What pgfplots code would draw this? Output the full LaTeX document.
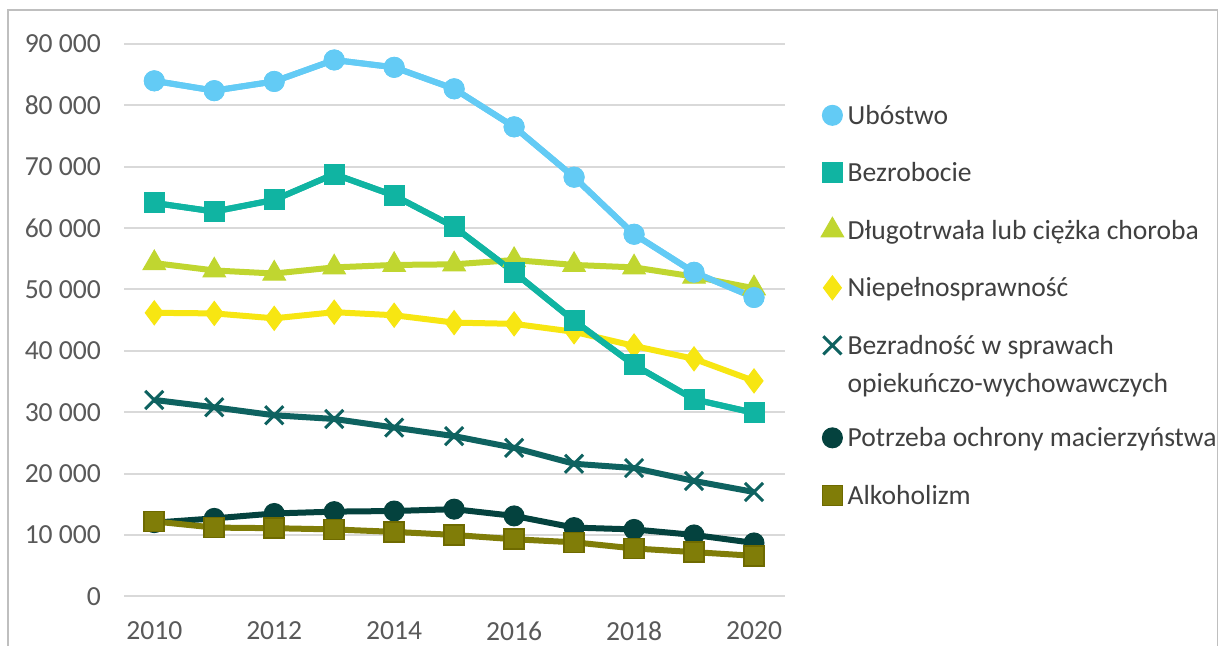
\documentclass[border=0pt]{standalone}
\usepackage{fontspec}
\setmainfont{Carlito}
\usepackage{pgfplots}
\pgfplotsset{compat=1.18}
\definecolor{cUb}{RGB}{99,203,245}
\definecolor{cBz}{RGB}{16,180,162}
\definecolor{cDl}{RGB}{192,214,48}
\definecolor{cNp}{RGB}{247,230,18}
\definecolor{cBr}{RGB}{14,98,96}
\definecolor{cPo}{RGB}{4,66,62}
\definecolor{cAl}{RGB}{128,125,8}
\definecolor{cAlD}{RGB}{110,106,0}
\definecolor{tickgray}{RGB}{89,89,89}
\definecolor{leggray}{RGB}{64,64,64}
\definecolor{gridgray}{RGB}{217,217,217}
\definecolor{bordergray}{RGB}{191,191,191}
\begin{document}
\begin{tikzpicture}
\path[use as bounding box, clip] (0pt,0pt) rectangle (609.5pt,322.5pt);
\fill[white] (0pt,0pt) rectangle (609.5pt,322.5pt);
\draw[bordergray, line width=0.6pt] (4pt,-5pt) rectangle (608.8pt,317.5pt);
\begin{axis}[
  at={(62pt,24.35pt)}, anchor=south west,
  scale only axis, width=330.5pt, height=276.15pt,
  xmin=2009.495, xmax=2020.517, ymin=0, ymax=90000,
  axis line style={draw=none}, major tick length=0pt,
  ymajorgrids, grid style={gridgray, line width=1pt},
  ytick={0,10000,...,90000},
  xtick={2010,2012,...,2020},
  scaled y ticks=false,
  /pgf/number format/assume math mode=true,
  yticklabel style={/pgf/number format/fixed, /pgf/number format/1000 sep={\ }, xshift=-8pt},
  xticklabel style={/pgf/number format/1000 sep={}, yshift=-9pt},
  tick label style={font=\fontsize{13.8}{16.5}\selectfont, text=tickgray},
  legend image code/.code={\draw[#1] plot[only marks] coordinates {(0.18cm,4.5pt)};},
  legend style={at={(1.045,0.906)}, anchor=north west, draw=none, fill=none,
    font=\fontsize{13.8}{16.5}\selectfont, text=leggray, row sep=11.25pt,
    nodes={anchor=base west, text depth=3.5pt, text height=10pt},
    /tikz/every even column/.append style={column sep=1pt}},
]
\addplot[cUb, line width=3pt, mark=*, mark size=5pt, mark options={fill=cUb, draw=cUb, line width=0.5pt}] coordinates {
(2010,84000)(2011,82400)(2012,83900)(2013,87400)(2014,86200)(2015,82700)(2016,76500)(2017,68300)(2018,59000)(2019,52800)(2020,48700)};
\addlegendentry{Ubóstwo}
\addplot[cBz, line width=3pt, mark=square*, mark size=5pt, mark options={fill=cBz, draw=cBz, line width=0.5pt}] coordinates {
(2010,64100)(2011,62700)(2012,64600)(2013,68800)(2014,65300)(2015,60200)(2016,52800)(2017,44900)(2018,37700)(2019,32100)(2020,29900)};
\addlegendentry{Bezrobocie}
\addplot[cDl, line width=3pt, mark=triangle*, mark size=6.5pt, mark options={fill=cDl, draw=cDl, line width=0.5pt}] coordinates {
(2010,54300)(2011,53100)(2012,52600)(2013,53600)(2014,54000)(2015,54100)(2016,54800)(2017,54000)(2018,53600)(2019,52100)(2020,50200)};
\addlegendentry{Długotrwała lub ciężka choroba}
\addplot[cNp, line width=3pt, mark=diamond*, mark size=6pt, mark options={fill=cNp, draw=cNp, line width=0.5pt}] coordinates {
(2010,46200)(2011,46100)(2012,45300)(2013,46300)(2014,45800)(2015,44600)(2016,44400)(2017,43100)(2018,40800)(2019,38700)(2020,35100)};
\addlegendentry{Niepełnosprawność}
\addplot[cBr, line width=3pt, mark=x, mark size=6.4pt, mark options={draw=cBr, line width=1.5pt}] coordinates {
(2010,32000)(2011,30800)(2012,29500)(2013,28900)(2014,27500)(2015,26100)(2016,24200)(2017,21600)(2018,20900)(2019,18800)(2020,17000)};
\addlegendentry[text depth=21pt]{\begin{tabular}[t]{@{}l@{}}Bezradność w sprawach\\[2.5pt]opiekuńczo-wychowawczych\end{tabular}}
\addplot[cPo, line width=3pt, mark=*, mark size=5pt, mark options={fill=cPo, draw=cPo, line width=0.5pt}] coordinates {
(2010,12000)(2011,12700)(2012,13500)(2013,13800)(2014,13900)(2015,14200)(2016,13100)(2017,11200)(2018,10900)(2019,10000)(2020,8700)};
\addlegendentry{Potrzeba ochrony macierzyństwa}
\addplot[cAl, line width=3pt, mark=square*, mark size=5pt, mark options={fill=cAl, draw=cAlD, line width=0.8pt}] coordinates {
(2010,12200)(2011,11200)(2012,11100)(2013,10900)(2014,10500)(2015,10000)(2016,9300)(2017,8800)(2018,7800)(2019,7200)(2020,6600)};
\addlegendentry{Alkoholizm}
\addplot[forget plot, cBz, line width=3pt, mark=square*, mark size=5pt, mark options={fill=cBz, draw=cBz, line width=0.5pt}] coordinates {
(2010,64100)(2011,62700)(2012,64600)(2013,68800)(2014,65300)(2015,60200)(2016,52800)(2017,44900)(2018,37700)(2019,32100)(2020,29900)};
\addplot[forget plot, cUb, line width=3pt, mark=*, mark size=5pt, mark options={fill=cUb, draw=cUb, line width=0.5pt}] coordinates {
(2010,84000)(2011,82400)(2012,83900)(2013,87400)(2014,86200)(2015,82700)(2016,76500)(2017,68300)(2018,59000)(2019,52800)(2020,48700)};
\end{axis}
\end{tikzpicture}
\end{document}
